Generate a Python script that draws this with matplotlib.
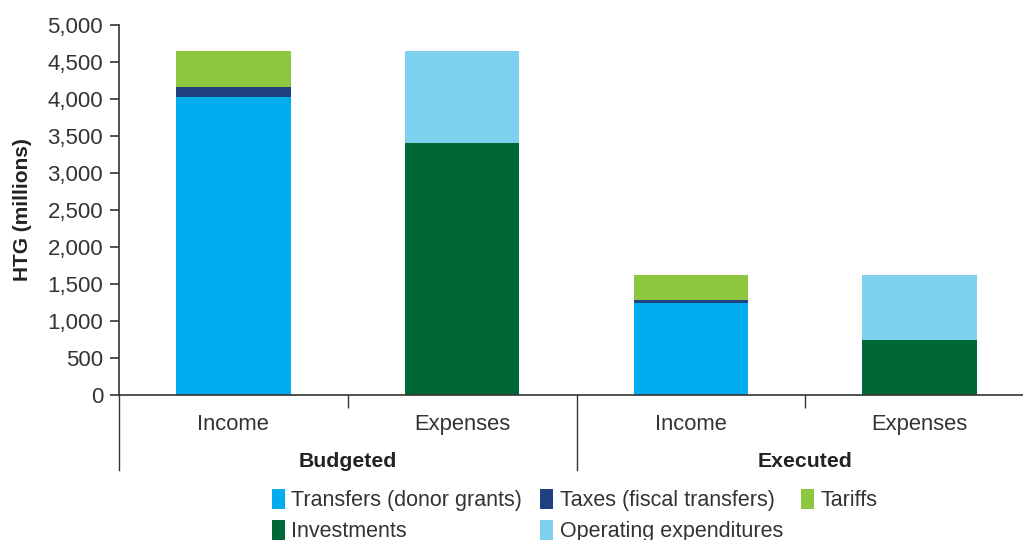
import matplotlib.pyplot as plt
from matplotlib.patches import Patch
from matplotlib.ticker import FuncFormatter
import matplotlib.transforms as mtransforms
import numpy as np

plt.rcParams['font.family'] = ['Liberation Sans', 'DejaVu Sans']

# data (HTG millions)
categories = ['Income', 'Expenses', 'Income', 'Expenses']
groups = ['Budgeted', 'Executed']
transfers = [4030, 0, 1245, 0]
taxes = [130, 0, 40, 0]
tariffs = [490, 0, 335, 0]
investments = [0, 3405, 0, 743]
operating = [0, 1245, 0, 879]

colors = {
    'Transfers (donor grants)': '#00AEEF',
    'Taxes (fiscal transfers)': '#1F4181',
    'Tariffs': '#8DC63F',
    'Investments': '#006837',
    'Operating expenditures': '#7DD1EE',
}

txt = '#333333'
fig = plt.figure(figsize=(10.23, 5.40), dpi=100)
ax = fig.add_axes([119 / 1023, 145 / 540, 915 / 1023, 370 / 540])

x = np.arange(len(categories))
w = 0.5
series = [
    ('Transfers (donor grants)', transfers),
    ('Taxes (fiscal transfers)', taxes),
    ('Tariffs', tariffs),
    ('Investments', investments),
    ('Operating expenditures', operating),
]
bottom = np.zeros(len(categories))
for name, vals in series:
    vals = np.array(vals, dtype=float)
    ax.bar(x, vals, w, bottom=bottom, color=colors[name], linewidth=0)
    bottom += vals

ax.set_xlim(-0.5, 3.5)
ax.set_ylim(0, 5000)
ax.set_yticks(np.arange(0, 5001, 500))
ax.yaxis.set_major_formatter(FuncFormatter(lambda v, p: f'{int(v):,}'))
ax.tick_params(axis='y', labelsize=16, colors=txt, length=6.5, width=1.2, pad=5)
ax.set_ylabel('HTG (millions)', fontsize=15, fontweight='bold', color='#222222', labelpad=11)

for s in ['top', 'right']:
    ax.spines[s].set_visible(False)
for s in ['left', 'bottom']:
    ax.spines[s].set_color('#333333')
    ax.spines[s].set_linewidth(1.2)

ax.set_xticks(x)
ax.set_xticklabels(categories)
ax.tick_params(axis='x', which='major', length=0, labelsize=15.8, colors=txt, pad=14)
ax.set_xticks([0.5, 2.5], minor=True)
ax.tick_params(axis='x', which='minor', length=9, width=1.0, color='#333333')

trans = mtransforms.blended_transform_factory(ax.transData, ax.transAxes)
for xs in [-0.5, 1.5]:
    ax.plot([xs, xs], [0, -0.203], transform=trans, color='#333333', lw=1.0, clip_on=False)
for i, g in enumerate(groups):
    ax.text(0.5 + 2 * i, -0.179, g, transform=trans, ha='center', va='center',
            fontsize=15.3, fontweight='bold', color='#222222')

order = ['Transfers (donor grants)', 'Investments', 'Taxes (fiscal transfers)',
         'Operating expenditures', 'Tariffs']
handles = [Patch(facecolor=colors[n], edgecolor='none', label=n) for n in order]
fig.legend(handles=handles, loc='upper left', bbox_to_anchor=(261 / 1023, 1 - 478 / 540),
           ncol=3, frameon=False, fontsize=15.5, handlelength=0.6, handleheight=1.05,
           handletextpad=0.3, columnspacing=0.85, labelspacing=0.4, borderpad=0,
           labelcolor=txt)

fig.savefig('out.png', dpi=100)
